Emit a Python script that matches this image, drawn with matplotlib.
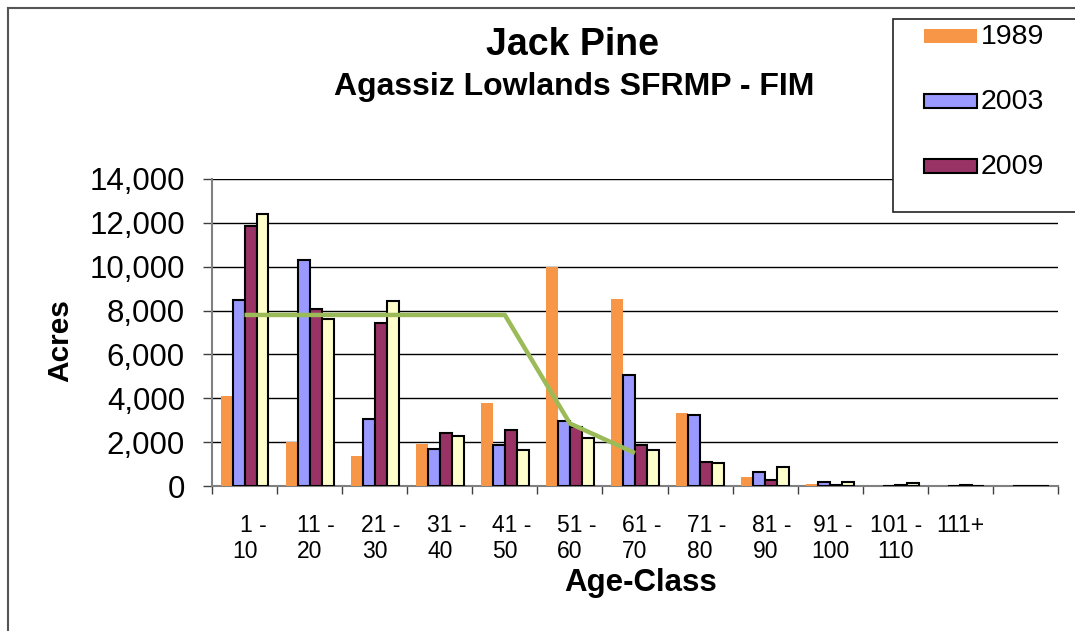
import numpy as np
import matplotlib
matplotlib.use('Agg')
import matplotlib.pyplot as plt
import matplotlib.transforms as mtransforms
from matplotlib.patches import Rectangle
from matplotlib.lines import Line2D

plt.rcParams['font.family'] = ['Liberation Sans', 'DejaVu Sans']

# Age classes, written on two lines as in the original (last slot is empty)
class_top = ['1 -', '11 -', '21 -', '31 -', '41 -', '51 -', '61 -', '71 -', '81 -', '91 -',
             '101 -', '111+', '']
class_bottom = ['10', '20', '30', '40', '50', '60', '70', '80', '90', '100', '110', '', '']

# Acres per age class
acres_1989 = [4100, 2000, 1370, 1920, 3800, 10000, 8540, 3310, 400, 90, 0, 0, 0]
acres_2003 = [8480, 10300, 3040, 1670, 1850, 2960, 5060, 3220, 650, 200, 20, 0, 0]
acres_2009 = [11870, 8070, 7430, 2420, 2570, 2700, 1850, 1090, 270, 60, 50, 40, 0]
acres_4th = [12400, 7600, 8440, 2280, 1660, 2200, 1640, 1050, 850, 200, 130, 0, 0]  # label cut off in legend

# green target line (first 7 classes)
target = [7800, 7800, 7800, 7800, 7800, 2850, 1500]

legend_years = ['1989', '2003', '2009']

c_orange = '#F79646'
c_blue = '#9999FF'
c_maroon = '#993366'
c_yellow = '#FFFFCC'
c_green = '#9BBB59'

W, H = 1075, 631
fig = plt.figure(figsize=(W / 100, H / 100), dpi=100)


def fx(px):
    return px / W


def fy(py):
    return 1 - py / H


ax = fig.add_axes([fx(212), fy(486), fx(1058) - fx(212), fy(179) - fy(486)])

x = np.arange(len(class_top))
w = 0.184
ax.bar(x - 1.5 * w, acres_1989, w, color=c_orange, edgecolor='none', zorder=3)
ax.bar(x - 0.5 * w, acres_2003, w, color=c_blue, edgecolor='black', linewidth=1.5, zorder=3)
ax.bar(x + 0.5 * w, acres_2009, w, color=c_maroon, edgecolor='black', linewidth=1.5, zorder=3)
ax.bar(x + 1.5 * w, acres_4th, w, color=c_yellow, edgecolor='black', linewidth=1.5, zorder=3)
ax.plot(x[:len(target)], target, color=c_green, linewidth=3.2, zorder=4, solid_capstyle='butt')

ax.set_xlim(-0.5, len(class_top) - 0.5)
ax.set_ylim(0, 14000)
ax.set_yticks(np.arange(0, 14001, 2000))
ax.set_yticklabels([f'{v:,}' for v in range(0, 14001, 2000)], fontsize=22.5)
ax.yaxis.grid(True, color='black', linewidth=1.0)
ax.set_axisbelow(True)

# category boundary ticks; labels drawn separately
ax.set_xticks(np.arange(-0.5, len(class_top)))
ax.set_xticklabels([])
ax.tick_params(axis='x', length=5.5, color='#404040', width=1)
ax.tick_params(axis='y', length=6.5, pad=13, color='#404040', width=1)

# wrapped labels: Excel leaves the first line nudged to the right (px)
top_nudge = [9, 6.5, 6, 6.5, 6.5, 6.5, 6.5, 6.5, 6.5, 3, 0.5, 0, 0]
xtrans = ax.get_xaxis_transform()
for xi, top, bottom, dx in zip(x, class_top, class_bottom, top_nudge):
    t1 = mtransforms.offset_copy(xtrans, fig=fig, x=dx * 0.72, y=-(525 - 486) * 0.72, units='points')
    t2 = mtransforms.offset_copy(xtrans, fig=fig, x=0, y=-(552 - 486) * 0.72, units='points')
    ax.text(xi, 0, top, transform=t1, fontsize=16.5, ha='center', va='center')
    ax.text(xi, 0, bottom, transform=t2, fontsize=16.5, ha='center', va='center')

for s in ['top', 'right']:
    ax.spines[s].set_visible(False)
for s in ['left', 'bottom']:
    ax.spines[s].set_color('#808080')
    ax.spines[s].set_linewidth(1.5)

# titles and axis labels
fig.text(fx(573), fy(45), 'Jack Pine', fontsize=27, fontweight='bold', ha='center', va='center')
fig.text(fx(574), fy(87), 'Agassiz Lowlands SFRMP - FIM', fontsize=23, fontweight='bold',
         ha='center', va='center')
fig.text(fx(60), fy(341), 'Acres', fontsize=21.5, fontweight='bold', rotation=90,
         ha='center', va='center')
fig.text(fx(641), fy(583), 'Age-Class', fontsize=22.5, fontweight='bold', ha='center', va='center')

# outer chart border (top and left visible)
fig.add_artist(Line2D([fx(7.5), fx(7.5)], [0, fy(8)], color='#555555', linewidth=1.5))
fig.add_artist(Line2D([fx(7.5), 1], [fy(8), fy(8)], color='#555555', linewidth=1.5))

# legend box, clipped at the right edge like the original
fig.add_artist(Rectangle((fx(893), fy(212)), fx(1200) - fx(893), fy(19) - fy(212),
                         transform=fig.transFigure, facecolor='white', edgecolor='#222222',
                         linewidth=1.2, zorder=10))
handles = [(c_orange, 'none'), (c_blue, 'black'), (c_maroon, 'black')]
for i, (year, (fc, ec)) in enumerate(zip(legend_years, handles)):
    cy = 35.5 + i * 65.3
    fig.add_artist(Rectangle((fx(924), fy(cy + 7)), fx(977) - fx(924), fy(cy - 7) - fy(cy + 7),
                             transform=fig.transFigure, facecolor=fc, edgecolor=ec,
                             linewidth=1.5, zorder=11))
    fig.text(fx(981), fy(cy + 1), year, fontsize=20.5, ha='left', va='center', zorder=12)

fig.savefig('out.png', dpi=100)
